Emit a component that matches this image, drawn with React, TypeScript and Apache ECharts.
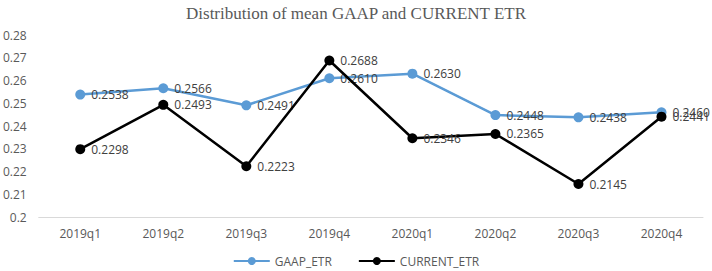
import React, { useEffect, useRef } from "react";
import * as echarts from "echarts";

const categories = ["2019q1", "2019q2", "2019q3", "2019q4", "2020q1", "2020q2", "2020q3", "2020q4"];
const gaapEtr = [0.2538, 0.2566, 0.2491, 0.261, 0.263, 0.2448, 0.2438, 0.246];
const currentEtr = [0.2298, 0.2493, 0.2223, 0.2688, 0.2346, 0.2365, 0.2145, 0.2441];
const yTicks = { min: 0.2, max: 0.28, interval: 0.01 };

export default function App() {
  const ref = useRef<HTMLDivElement>(null);
  useEffect(() => {
    if (!ref.current) return;
    const chart = echarts.init(ref.current, undefined, { renderer: "svg" });
    const labelStyle = {
      show: true,
      position: "right" as const,
      distance: 6,
      color: "#404040",
      fontSize: 12,
      fontFamily: "Open Sans",
      formatter: (p: any) => p.value.toFixed(4),
    };
    chart.setOption({
      animation: false,
      backgroundColor: "#fff",
      title: {
        text: "Distribution of mean GAAP and CURRENT ETR",
        left: "center",
        top: 0,
        textStyle: { fontFamily: "Liberation Serif", fontWeight: "normal", fontSize: 17, color: "#595959" },
      },
      legend: {
        bottom: -1,
        left: "center",
        itemWidth: 36,
        itemHeight: 10,
        itemGap: 26,
        textStyle: { fontFamily: "Open Sans", fontSize: 12, color: "#595959" },
        data: ["GAAP_ETR", "CURRENT_ETR"],
      },
      grid: { left: 36, right: 9, top: 35, bottom: 54, containLabel: false },
      xAxis: {
        type: "category",
        data: categories,
        boundaryGap: true,
        axisLine: { lineStyle: { color: "#d9d9d9" } },
        axisTick: { show: false },
        axisLabel: { color: "#595959", fontFamily: "Open Sans", fontSize: 12, margin: 10 },
      },
      yAxis: {
        type: "value",
        min: yTicks.min,
        max: yTicks.max,
        interval: yTicks.interval,
        splitLine: { show: false },
        axisLine: { show: false },
        axisTick: { show: false },
        axisLabel: {
          color: "#595959",
          fontFamily: "Open Sans",
          fontSize: 12,
          margin: 12,
          formatter: (v: number) => String(parseFloat(v.toFixed(2))),
        },
      },
      series: [
        {
          name: "GAAP_ETR",
          type: "line",
          data: gaapEtr,
          symbol: "circle",
          symbolSize: 10,
          color: "#5B9BD5",
          lineStyle: { width: 2.5, color: "#5B9BD5" },
          itemStyle: { color: "#5B9BD5" },
          label: labelStyle,
          z: 2,
        },
        {
          name: "CURRENT_ETR",
          type: "line",
          data: currentEtr,
          symbol: "circle",
          symbolSize: 10,
          color: "#000",
          lineStyle: { width: 2.5, color: "#000" },
          itemStyle: { color: "#000" },
          label: labelStyle,
          z: 3,
        },
      ],
    });
    return () => chart.dispose();
  }, []);
  return <div ref={ref} style={{ width: 712, height: 271, position: "absolute", left: 0, top: 0 }} />;
}
